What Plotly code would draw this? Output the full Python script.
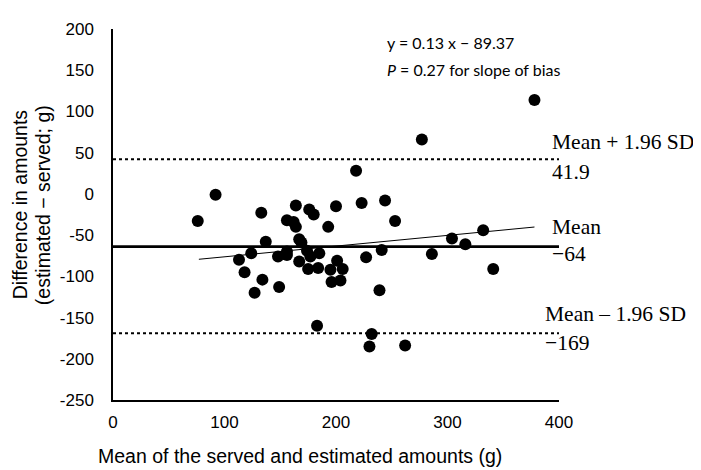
import plotly.graph_objects as go

# ---- data ----
mean_x = [76, 92, 113, 118, 124, 127, 133, 134, 137, 148, 149, 156, 156, 156, 162,
          164, 164, 167, 167, 169, 174, 175, 176, 177, 180, 183, 184, 185, 193, 195,
          196, 200, 201, 204, 206, 218, 223, 227, 230, 232, 239, 241, 244, 253, 262,
          277, 286, 304, 316, 332, 341, 378]
diff_y = [-33, -1, -80, -95, -72, -120, -23, -104, -58, -76, -113, -32, -70, -74, -34,
          -14, -40, -55, -82, -59, -69, -91, -19, -76, -25, -160, -90, -72, -40, -92,
          -107, -15, -81, -105, -91, 28, -11, -77, -185, -170, -117, -68, -8, -33, -184,
          66, -73, -54, -61, -44, -91, 114]

bias_mean = -64
loa_upper = 41.9
loa_lower = -169
line_x = [0, 400]
reg_x = [77, 378]
reg_y = [-79.3, -40.2]

x_ticks = [0, 100, 200, 300, 400]
x_ticktext = ["0", "100", "200", "300", "400"]
y_ticks = [200, 150, 100, 50, 0, -50, -100, -150, -200, -250]
y_ticktext = ["200", "150", "100", "50", "0", "-50", "-100", "-150", "-200", "-250"]

eq_text = "y = 0.13 x \u2212 89.37"
p_text = "<i>P</i> = 0.27 for slope of bias"
x_title = "Mean of the served and estimated amounts (g)"
y_title_1 = "Difference in amounts"
y_title_2 = "(estimated \u2212 served; g)"

# ---- layout geometry (page has an 8px body margin) ----
OFF = 8
W, H = 701 - OFF, 470 - OFF
ML, MR, MT, MB = 113 - OFF, 142, 21 - OFF, 70
PW, PH = W - ML - MR, H - MT - MB


def px(xp):
    return (xp - OFF - ML) / PW


def py(yp):
    return (H - MB - (yp - OFF)) / PH


fig = go.Figure()

fig.add_trace(go.Scatter(x=line_x, y=[loa_upper, loa_upper], mode="lines",
                         line=dict(color="black", width=2, dash="dot"), hoverinfo="skip"))
fig.add_trace(go.Scatter(x=line_x, y=[loa_lower, loa_lower], mode="lines",
                         line=dict(color="black", width=2, dash="dot"), hoverinfo="skip"))
fig.add_trace(go.Scatter(x=line_x, y=[bias_mean, bias_mean], mode="lines",
                         line=dict(color="black", width=2.6), hoverinfo="skip"))
fig.add_trace(go.Scatter(x=reg_x, y=reg_y, mode="lines",
                         line=dict(color="black", width=1), hoverinfo="skip"))
fig.add_trace(go.Scatter(x=mean_x, y=diff_y, mode="markers",
                         marker=dict(color="black", size=12)))

sans = "Liberation Sans, Arial, sans-serif"
serif = "Liberation Serif, Times New Roman, serif"
calib = "Lato, Calibri, sans-serif"

ann = []
ann.append(dict(text=eq_text, x=px(385), y=py(35), xanchor="left", yanchor="middle",
                font=dict(family=calib, size=16, color="black")))
ann.append(dict(text=p_text, x=px(385), y=py(62), xanchor="left", yanchor="middle",
                font=dict(family=calib, size=16, color="black")))
right_labels = [("Mean + 1.96 SD", 550, 136), ("41.9", 550, 167),
                ("Mean", 550, 223), ("\u221264", 550, 251),
                ("Mean \u2013 1.96 SD", 543, 312), ("\u2212169", 543, 342)]
for t, xx, yy in right_labels:
    ann.append(dict(text=t, x=px(xx), y=py(yy), xanchor="left", yanchor="middle",
                    font=dict(family=serif, size=21.5, color="black")))
ann.append(dict(text=x_title, x=px(300), y=py(457), xanchor="center", yanchor="middle",
                font=dict(family=sans, size=19.5, color="black")))
ann.append(dict(text=y_title_1, x=px(20), y=py(200), xanchor="center", yanchor="middle",
                textangle=-90, font=dict(family=sans, size=19.5, color="black")))
ann.append(dict(text=y_title_2, x=px(43), y=py(201), xanchor="center", yanchor="middle",
                textangle=-90, font=dict(family=sans, size=19.5, color="black")))
for a in ann:
    a.update(xref="paper", yref="paper", showarrow=False)

fig.update_layout(
    width=W, height=H,
    margin=dict(l=ML, r=MR, t=MT, b=MB, pad=0),
    plot_bgcolor="white", paper_bgcolor="white",
    showlegend=False,
    annotations=ann,
    xaxis=dict(range=[0, 400], tickvals=x_ticks, ticktext=x_ticktext,
               showgrid=False, zeroline=False, showline=True, linecolor="black",
               linewidth=1.5, ticks="", ticklabelstandoff=6,
               tickfont=dict(family=sans, size=17, color="black")),
    yaxis=dict(range=[-250, 200], tickvals=y_ticks, ticktext=y_ticktext,
               showgrid=False, zeroline=False, showline=True, linecolor="black",
               linewidth=1.5, ticks="", ticklabelstandoff=14,
               tickfont=dict(family=sans, size=17, color="black")),
)

fig.write_html("out.html")
